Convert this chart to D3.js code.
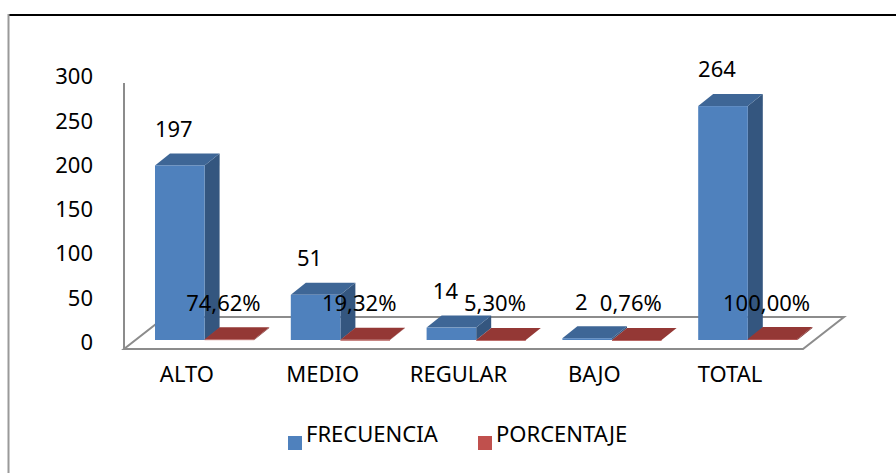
<!DOCTYPE html>
<html>
<head>
<meta charset="utf-8">
<script src="https://cdn.jsdelivr.net/npm/d3@7"></script>
<style>
  body { margin: 0; background: #fff; }
  svg text { font-family: "Noto Sans", "Open Sans", sans-serif; fill: #000; }
</style>
</head>
<body>
<svg id="chart" width="896" height="473"></svg>
<script>
// data
var categories = ["ALTO", "MEDIO", "REGULAR", "BAJO", "TOTAL"];
var series = ["FRECUENCIA", "PORCENTAJE"];
var frecuencia = [197, 51, 14, 2, 264];
var porcentaje = [0.7462, 0.1932, 0.053, 0.0076, 1];
var porcentajeLabels = ["74,62%", "19,32%", "5,30%", "0,76%", "100,00%"];
var yTicks = [0, 50, 100, 150, 200, 250, 300];

var colors = {
    FRECUENCIA: { front: "#4F81BD", top: "#3E6696", side: "#34567F", legend: "#4F81BD" },
    PORCENTAJE: { front: "#A8403D", top: "#943835", side: "#7A2E2C", legend: "#C0504D" }
};

var svg = d3.select("#chart");

// outer frame (top and left edges visible)
svg.append("line").attr("x1", 8).attr("x2", 896).attr("y1", 15).attr("y2", 15)
    .attr("stroke", "#000").attr("stroke-width", 2);
svg.append("line").attr("x1", 8.5).attr("x2", 8.5).attr("y1", 14).attr("y2", 473)
    .attr("stroke", "#9a9a9a").attr("stroke-width", 2);

// scales
var y = d3.scaleLinear().domain([0, 300]).range([340, 74.2]);
var fx = d3.scaleBand().domain(categories).range([124, 803]);
var barW = 49.6;
var x1 = d3.scaleBand().domain(series).range([0, barW * 2]);

// 3d offsets
var floorDx = 41, floorDy = -32, floorY = 349;
var dx = 15, dy = -12;

// floor
var fl = fx.range()[0], fr = fx.range()[1];
svg.append("path")
    .attr("d", "M" + fl + "," + floorY + "L" + fr + "," + floorY +
               "L" + (fr + floorDx) + "," + (floorY + floorDy) +
               "L" + (fl + floorDx) + "," + (floorY + floorDy) + "Z")
    .attr("fill", "#fff").attr("stroke", "#8c8c8c").attr("stroke-width", 2);

// vertical axis line
svg.append("line").attr("x1", fl).attr("x2", fl).attr("y1", 83).attr("y2", floorY)
    .attr("stroke", "#8c8c8c").attr("stroke-width", 2);

// tick labels
svg.append("g").selectAll("text").data(yTicks).enter().append("text")
    .attr("x", 93).attr("y", function(d) { return y(d) + 10; })
    .attr("text-anchor", "end").attr("font-size", 22)
    .text(function(d) { return d; });

// bars
function bar3d(g, x0, val, c) {
    var top = y(val), base = y(0);
    g.append("path")
        .attr("d", "M" + (x0 + barW) + "," + base + "L" + (x0 + barW + dx) + "," + (base + dy) +
                   "L" + (x0 + barW + dx) + "," + (top + dy) + "L" + (x0 + barW) + "," + top + "Z")
        .attr("fill", c.side);
    g.append("path")
        .attr("d", "M" + x0 + "," + top + "L" + (x0 + barW) + "," + top +
                   "L" + (x0 + barW + dx) + "," + (top + dy) + "L" + (x0 + dx) + "," + (top + dy) + "Z")
        .attr("fill", c.top);
    g.append("rect").attr("x", x0).attr("y", top).attr("width", barW)
        .attr("height", Math.max(base - top, 0.8)).attr("fill", c.front);
}

var bars = svg.append("g");
categories.forEach(function(cat, i) {
    var bx = fx(cat) + 31;
    bar3d(bars, bx + x1("FRECUENCIA"), frecuencia[i], colors.FRECUENCIA);
    bar3d(bars, bx + x1("PORCENTAJE"), porcentaje[i], colors.PORCENTAJE);
});

// data labels
var labels = svg.append("g").attr("font-size", 22).attr("text-anchor", "middle");
categories.forEach(function(cat, i) {
    var bx = fx(cat) + 31;
    labels.append("text")
        .attr("x", bx + x1("FRECUENCIA") + barW / 2 - 6)
        .attr("y", y(frecuencia[i]) - 28.6)
        .text(frecuencia[i]);
    labels.append("text")
        .attr("x", bx + x1("PORCENTAJE") + barW / 2 - 6)
        .attr("y", y(porcentaje[i]) - 28.6)
        .text(porcentajeLabels[i]);
});

// category labels
svg.append("g").selectAll("text").data(categories).enter().append("text")
    .attr("x", function(d) { return fx(d) + fx.bandwidth() / 2 - 5; })
    .attr("y", 382).attr("text-anchor", "middle").attr("font-size", 22)
    .text(function(d) { return d; });

// legend
var legX = [288, 478];
var legend = svg.append("g");
series.forEach(function(s, i) {
    legend.append("rect").attr("x", legX[i]).attr("y", 436).attr("width", 14).attr("height", 14)
        .attr("fill", colors[s].legend);
    legend.append("text").attr("x", legX[i] + 18).attr("y", 442).attr("font-size", 22).text(s);
});
</script>
</body>
</html>
